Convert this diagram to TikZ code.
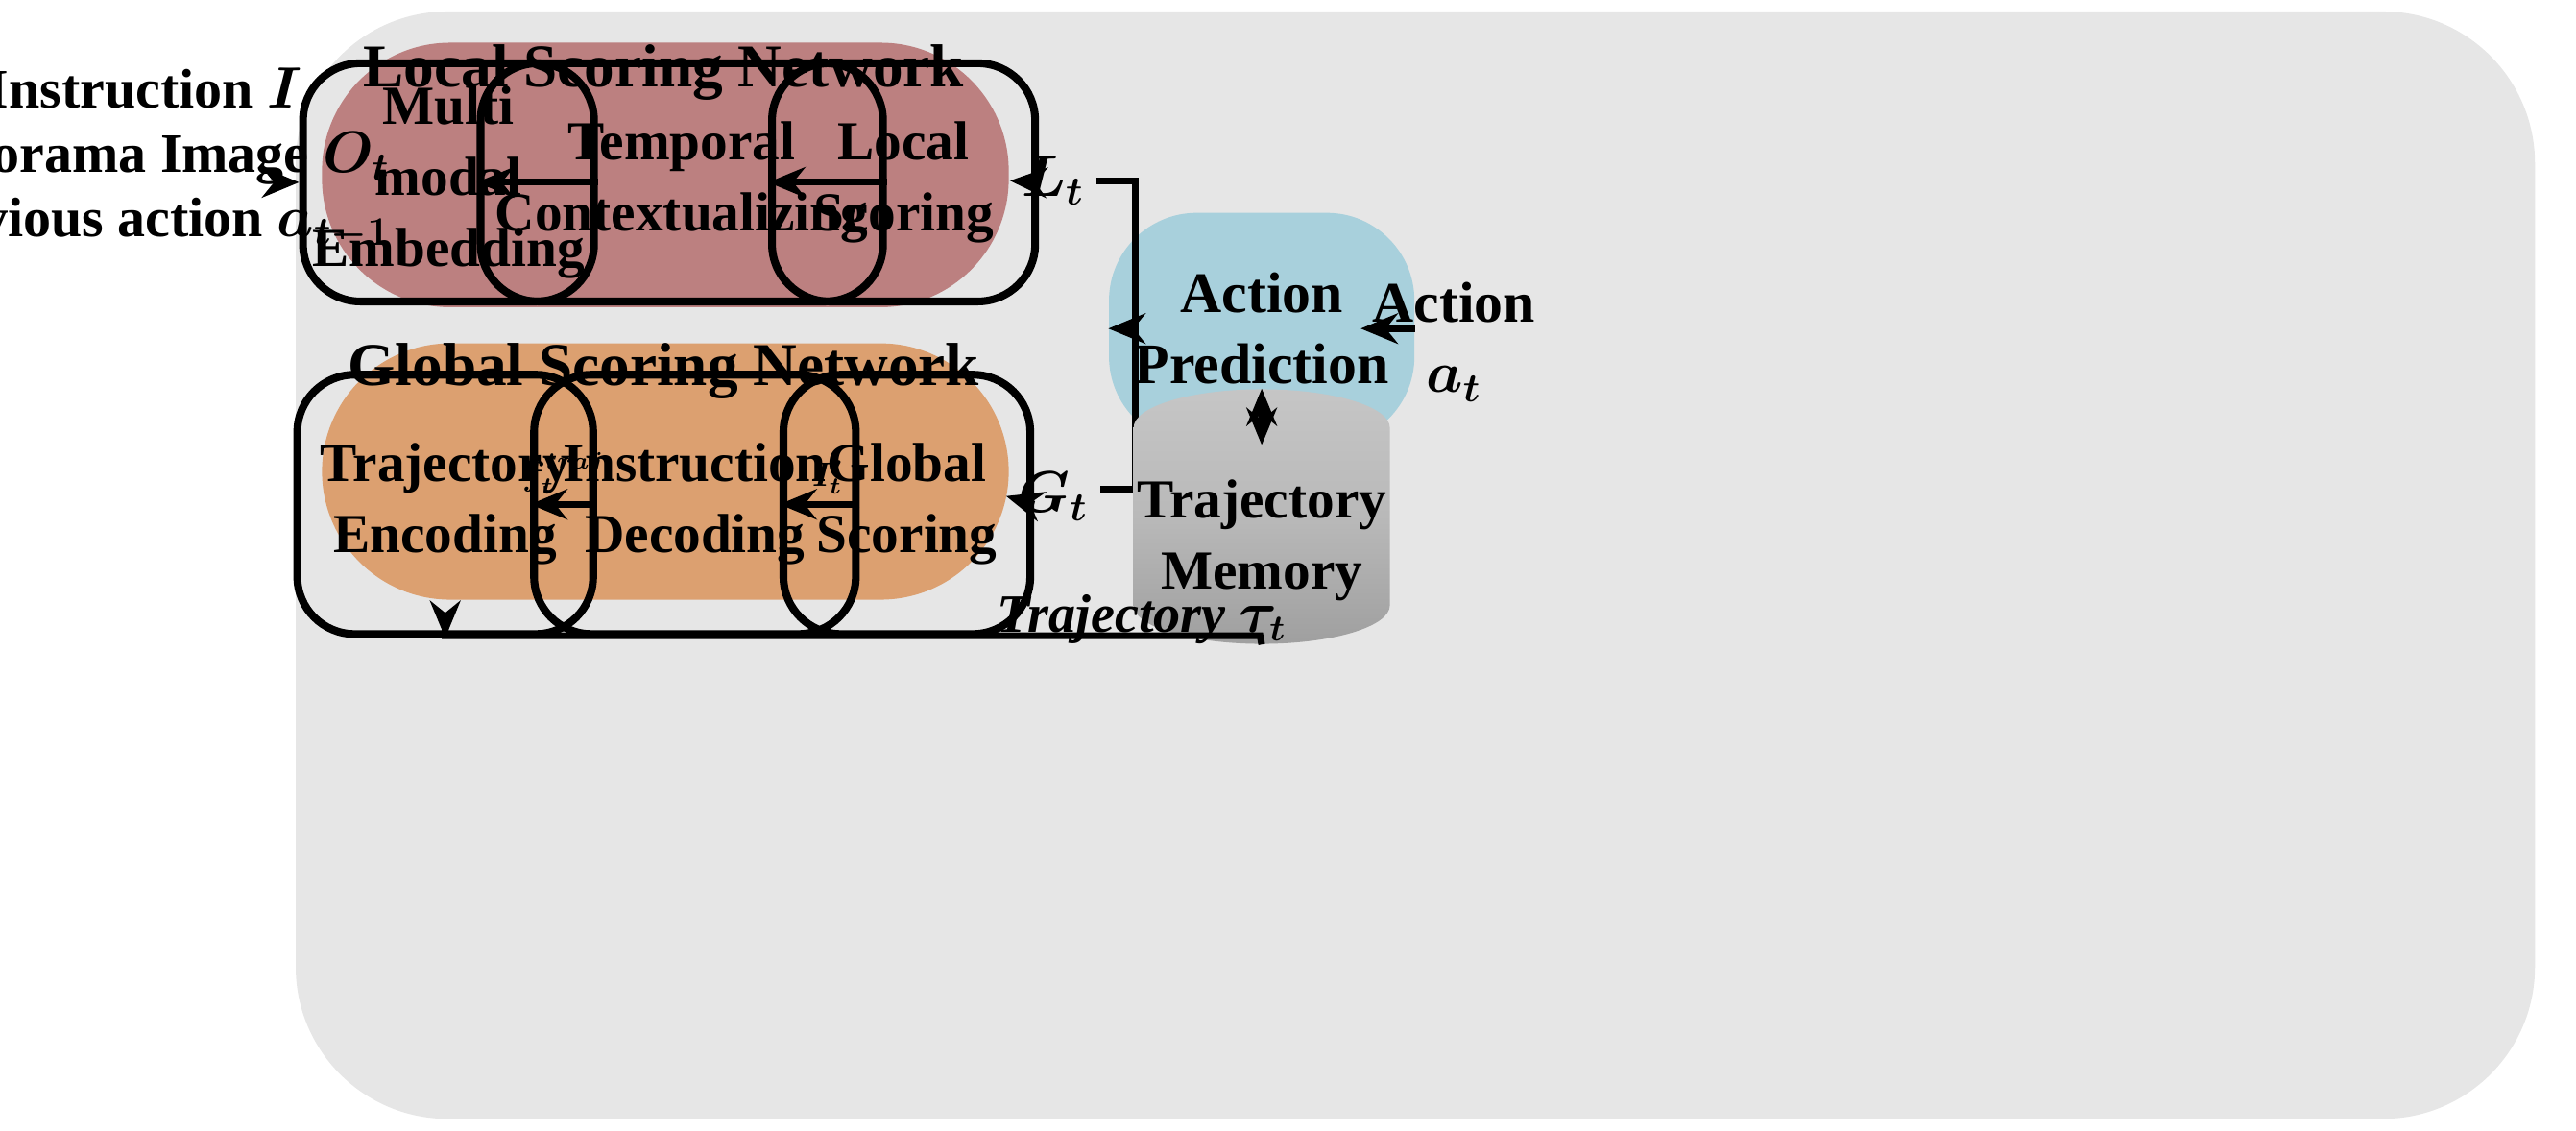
\documentclass[tikz,border=0pt]{standalone}
\usepackage{amsmath,bm}
\usepackage{fontspec}
\setmainfont{Liberation Serif}
\usetikzlibrary{shapes.geometric,arrows.meta}
\definecolor{bg}{HTML}{E6E6E6}
\definecolor{loc}{HTML}{BC8080}
\definecolor{glo}{HTML}{DCA070}
\definecolor{act}{HTML}{A8D0DC}
\begin{document}
\begin{tikzpicture}[x=0.01711cm,y=-0.01711cm,
  inner/.style={draw=black,line width=2.3pt,rounded corners=17pt,align=center,inner sep=1pt,font=\bfseries\fontsize{16.3}{21}\selectfont},
  arr/.style={-{Stealth[length=11pt,width=9pt]},line width=2pt},
  ln/.style={line width=2pt},
  lab/.style={font=\bfseries\fontsize{17}{21}\selectfont,align=center}]
\useasboundingbox (0,0) rectangle (1568,688);
\fill[bg,rounded corners=45pt] (180,7) rectangle (1543,681);
\fill[loc,rounded corners=38pt] (196,26) rectangle (614,187);
\fill[glo,rounded corners=38pt] (196,209) rectangle (614,365);
\node[lab,font=\bfseries\fontsize{18}{22}\selectfont] (lt) at (404,44) {Local Scoring Network};
\node[lab,font=\bfseries\fontsize{18}{22}\selectfont] (gt) at (404,226) {Global Scoring Network};
\node[inner,minimum width=3.03cm,minimum height=2.48cm] (mm) at (273,111) {Multi\\modal\\Embedding};
\node[inner,minimum width=4.19cm,minimum height=2.48cm] (tc) at (415,111) {Temporal\\Contextualizing};
\node[inner,minimum width=2.74cm,minimum height=2.48cm] (ls) at (550,111) {Local\\Scoring};
\node[inner,minimum width=3.08cm,minimum height=2.7cm] (te) at (271,307) {Trajectory\\Encoding};
\node[inner,minimum width=3.35cm,minimum height=2.7cm] (id) at (423,307) {Instruction\\Decoding};
\node[inner,minimum width=2.57cm,minimum height=2.7cm] (gs) at (552,307) {Global\\Scoring};
\node[lab,font=\bfseries\fontsize{16.5}{19}\selectfont] (inp) at (88,97) {Instruction $\bm{I}$\\Panorama Image $\bm{O_t}$\\Previous action $\bm{a_{t-1}}$};
\coordinate (inpe) at (176,111);
\draw[arr] (inpe) -- (mm);
\draw[arr] (mm) -- (tc);
\draw[arr] (tc) -- (ls);
\draw[arr] (te) -- node[above,pos=0.5,inner sep=2pt] (f) {$\bm{f_t^{traj}}$} (id);
\draw[arr] (id) -- node[above,pos=0.4,inner sep=2pt] (ip) {$\bm{I'_t}$} (gs);
\node[lab] (L) at (641,110) {$\bm{L_t}$};
\node[lab] (G) at (641,302) {$\bm{G_t}$};
\draw[arr] (ls.east) -- (L.west);
\draw[arr] (gs.east) -- (G.west);
\node[fill=act,rounded corners=26pt,minimum width=3.18cm,minimum height=2.41cm,align=center,font=\bfseries\fontsize{17}{21}\selectfont] (ap) at (768,200) {Action\\Prediction};
\coordinate (j1) at (691,110);
\coordinate (j2) at (691,298);
\coordinate (j3) at (691,200);
\draw[ln] (L.east) -- (j1) -- (j2) -- (G.east|-j2);
\draw[arr] (j3) -- (ap.west);
\node[lab] (act) at (885,208) {Action\\$\bm{a_t}$};
\draw[arr] (ap.east) -- (act.west|-ap.east);
\node[cylinder,shape border rotate=90,aspect=0.3,minimum width=1.92cm,minimum height=2.65cm,
  top color=gray!45,bottom color=gray!75,middle color=gray!55,draw=none,align=center,inner sep=1pt,font=\bfseries\fontsize{16.3}{21}\selectfont] (tm) at (768,329) {Trajectory\\Memory};
\draw[{Stealth[length=11pt,width=9pt]}-{Stealth[length=11pt,width=9pt]},line width=2pt] (ap.south) -- (tm.top);
\coordinate (b1) at (767,387);
\coordinate (b2) at (271,387);
\draw[arr] (tm.bottom) -- (b1) -- (b2) -- (te.south);
\node[font=\bfseries\itshape\fontsize{16}{20}\selectfont] (tl) at (695,377) {Trajectory $\bm{\tau_t}$};
\end{tikzpicture}
\end{document}
